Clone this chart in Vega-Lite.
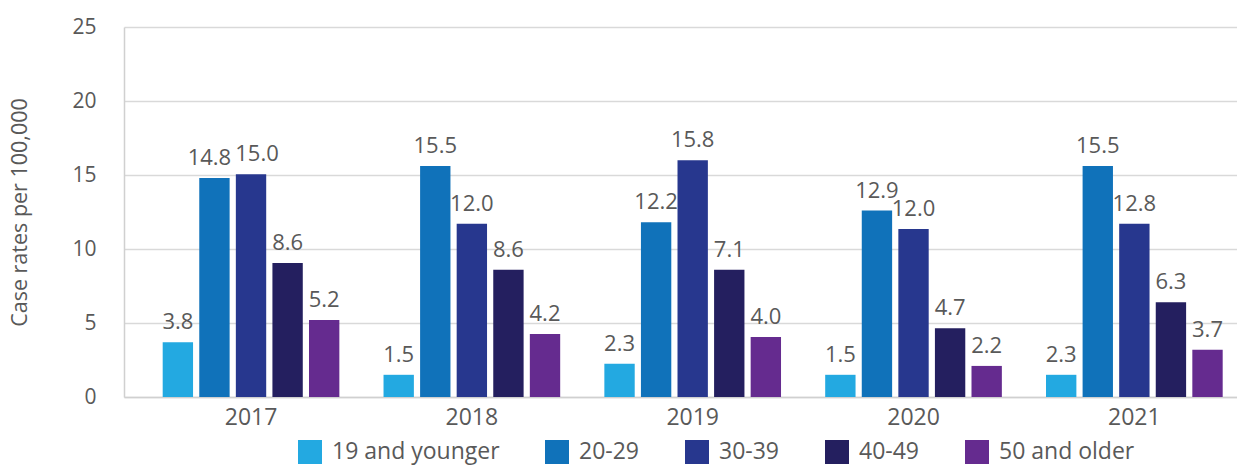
{
  "$schema": "https://vega.github.io/schema/vega-lite/v6.json",
  "width": 1113,
  "height": 370,
  "autosize": {"type": "none"},
  "padding": {"left": 124, "top": 27, "right": 0, "bottom": 71},
  "background": "white",
  "config": {
    "font": "Open Sans",
    "view": {"stroke": null}
  },
  "data": {
    "values": [
      {"year": "2017", "age": "19 and younger", "rate": 3.7, "label": "3.8"},
      {"year": "2017", "age": "20-29", "rate": 14.8, "label": "14.8"},
      {"year": "2017", "age": "30-39", "rate": 15.05, "label": "15.0"},
      {"year": "2017", "age": "40-49", "rate": 9.05, "label": "8.6"},
      {"year": "2017", "age": "50 and older", "rate": 5.2, "label": "5.2"},
      {"year": "2018", "age": "19 and younger", "rate": 1.5, "label": "1.5"},
      {"year": "2018", "age": "20-29", "rate": 15.6, "label": "15.5"},
      {"year": "2018", "age": "30-39", "rate": 11.7, "label": "12.0"},
      {"year": "2018", "age": "40-49", "rate": 8.6, "label": "8.6"},
      {"year": "2018", "age": "50 and older", "rate": 4.25, "label": "4.2"},
      {"year": "2019", "age": "19 and younger", "rate": 2.25, "label": "2.3"},
      {"year": "2019", "age": "20-29", "rate": 11.8, "label": "12.2"},
      {"year": "2019", "age": "30-39", "rate": 16.0, "label": "15.8"},
      {"year": "2019", "age": "40-49", "rate": 8.6, "label": "7.1"},
      {"year": "2019", "age": "50 and older", "rate": 4.05, "label": "4.0"},
      {"year": "2020", "age": "19 and younger", "rate": 1.5, "label": "1.5"},
      {"year": "2020", "age": "20-29", "rate": 12.6, "label": "12.9"},
      {"year": "2020", "age": "30-39", "rate": 11.35, "label": "12.0"},
      {"year": "2020", "age": "40-49", "rate": 4.65, "label": "4.7"},
      {"year": "2020", "age": "50 and older", "rate": 2.1, "label": "2.2"},
      {"year": "2021", "age": "19 and younger", "rate": 1.5, "label": "2.3"},
      {"year": "2021", "age": "20-29", "rate": 15.6, "label": "15.5"},
      {"year": "2021", "age": "30-39", "rate": 11.7, "label": "12.8"},
      {"year": "2021", "age": "40-49", "rate": 6.4, "label": "6.3"},
      {"year": "2021", "age": "50 and older", "rate": 3.2, "label": "3.7"}
    ]
  },
  "encoding": {
    "x": {
      "field": "year",
      "type": "nominal",
      "scale": {"paddingInner": 0.2, "paddingOuter": 0.12, "align": 0.73},
      "axis": {
        "title": null,
        "labelAngle": 0,
        "labelFontSize": 23,
        "labelColor": "#595959",
        "labelPadding": 9,
        "domainColor": "#d0d0d0",
        "domainWidth": 1.5,
        "ticks": false,
        "grid": false
      }
    },
    "xOffset": {
      "field": "age",
      "type": "nominal",
      "sort": ["19 and younger", "20-29", "30-39", "40-49", "50 and older"],
      "scale": {"paddingInner": 0.17, "paddingOuter": 0}
    },
    "y": {
      "field": "rate",
      "type": "quantitative",
      "scale": {"domain": [0, 25]},
      "axis": {
        "title": "Case rates per 100,000",
        "titleFontSize": 21.5,
        "titleFontWeight": "normal",
        "titleColor": "#595959",
        "titlePadding": 40,
        "values": [0, 5, 10, 15, 20, 25],
        "labelFontSize": 21,
        "labelColor": "#595959",
        "labelPadding": 28,
        "ticks": false,
        "domain": true,
        "domainColor": "#d0d0d0",
        "domainWidth": 1.5,
        "gridColor": "#d9d9d9",
        "gridWidth": 1.5
      }
    }
  },
  "layer": [
    {
      "mark": {"type": "bar"},
      "encoding": {
        "color": {
          "field": "age",
          "type": "nominal",
          "scale": {
            "domain": ["19 and younger", "20-29", "30-39", "40-49", "50 and older"],
            "range": ["#23a9e1", "#1072ba", "#27378e", "#241f5f", "#652b8f"]
          },
          "legend": {
            "title": null,
            "orient": "none",
            "direction": "horizontal",
            "legendX": 174,
            "legendY": 413,
            "symbolType": "square",
            "symbolSize": 576,
            "symbolStrokeWidth": 0,
            "labelFontSize": 23,
            "labelLimit": 400,
            "labelColor": "#595959",
            "labelOffset": 10,
            "columnPadding": 45
          }
        }
      }
    },
    {
      "transform": [{"filter": "!(datum.year == '2017' && (datum.age == '20-29' || datum.age == '30-39'))"}],
      "mark": {"type": "text", "baseline": "alphabetic", "dy": -13, "fontSize": 22, "color": "#595959"},
      "encoding": {
        "text": {"field": "label"}
      }
    },
    {
      "transform": [{"filter": "datum.year == '2017' && datum.age == '20-29'"}],
      "mark": {"type": "text", "baseline": "alphabetic", "dy": -13, "dx": -5, "fontSize": 22, "color": "#595959"},
      "encoding": {
        "text": {"field": "label"}
      }
    },
    {
      "transform": [{"filter": "datum.year == '2017' && datum.age == '30-39'"}],
      "mark": {"type": "text", "baseline": "alphabetic", "dy": -13, "dx": 6, "fontSize": 22, "color": "#595959"},
      "encoding": {
        "text": {"field": "label"}
      }
    }
  ]
}
